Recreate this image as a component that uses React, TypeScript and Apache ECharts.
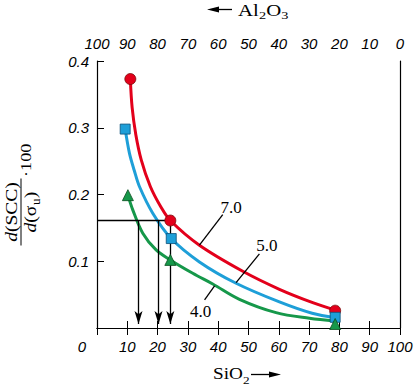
import React, { useEffect, useRef } from 'react';
import * as echarts from 'echarts';

const SANS = 'Liberation Sans, Arial, sans-serif';
const SERIF = 'Liberation Serif, Times New Roman, serif';

// curve samples [SiO2 %, value]
const curve70 = [[11.0, 0.373], [11.6, 0.330], [12.8, 0.290], [14.6, 0.252], [17.6, 0.212], [21.0, 0.182], [24.2, 0.161], [33.8, 0.124], [48.1, 0.085], [60.2, 0.058], [71.2, 0.038], [78.6, 0.027]];
const curve50 = [[9.3, 0.298], [10.7, 0.262], [12.3, 0.236], [14.0, 0.212], [18.4, 0.172], [24.5, 0.134], [33.8, 0.099], [45.9, 0.067], [60.2, 0.039], [71.0, 0.022], [78.6, 0.0155]];
const curve40 = [[10.2, 0.199], [11.8, 0.177], [15.1, 0.142], [19.5, 0.117], [24.2, 0.102], [31.6, 0.082], [38.2, 0.066], [47.0, 0.043], [59.1, 0.023], [70.1, 0.0145], [78.6, 0.0105]];

// measured points
const pts70 = [[11.0, 0.373], [24.2, 0.161], [78.6, 0.026]];
const pts50 = [[9.3, 0.298], [24.5, 0.134], [78.6, 0.016]];
const pts40 = [[10.2, 0.199], [24.2, 0.102], [78.6, 0.006]];

// reference construction
const refLevel = 0.161;
const refEndX = 24.2;
const arrowXs = [13.7, 20.3, 24.2];

// curve labels
const curveNames = ['7.0', '5.0', '4.0'];
const labelPos = [[44.3, 0.1805], [56.1, 0.1243], [34.2, 0.0247]];
const leaders = [
  [[41.5, 0.170], [33.8, 0.124]],
  [[53.6, 0.111], [45.9, 0.068]],
  [[38.8, 0.063], [35.5, 0.042]],
];

const RED = '#e3001b';
const BLUE = '#1e9fd8';
const GREEN = '#16984a';

export default function App() {
  const ref = useRef<HTMLDivElement>(null);
  useEffect(() => {
    document.body.style.margin = '0';
    const chart = echarts.init(ref.current!, undefined, { renderer: 'svg' });
    const tickLabel = { fontStyle: 'italic', fontFamily: SANS, fontSize: 15, color: '#000' };
    const axisLine = { show: true, lineStyle: { color: '#000', width: 1.2 } };
    const axisTick = { show: true, inside: true, length: 7, lineStyle: { color: '#000', width: 1 } };
    const lineSeries = (data: number[][], color: string) => ({
      type: 'line', data, smooth: 0.35, showSymbol: false, symbol: 'none',
      lineStyle: { color, width: 3 }, silent: true, z: 2,
    });
    const ptSeries = (data: number[][], color: string, border: string, symbol: string, size: number) => ({
      type: 'scatter', data, symbol, symbolSize: size,
      itemStyle: { color, borderColor: border, borderWidth: 0.8, opacity: 1 }, z: 5, silent: true,
    });
    const textStyle = (extra: any) => ({ fill: '#000', ...extra });
    chart.setOption({
      animation: false,
      grid: { left: 97, right: 16, top: 61, bottom: 60, containLabel: false },
      xAxis: [
        {
          type: 'value', position: 'bottom', min: 0, max: 100, interval: 10,
          axisLine, axisTick, splitLine: { show: false },
          axisLabel: {
            ...tickLabel, margin: 11,
            formatter: (v: number) => (v === 0 ? '{z|0}' : String(v)),
            rich: { z: { ...tickLabel, padding: [0, 30, 0, 0] } },
          },
        },
        {
          type: 'value', position: 'top', min: 0, max: 100, interval: 10, inverse: true,
          axisLine, axisTick, splitLine: { show: false },
          axisLabel: { ...tickLabel, margin: 10 },
        },
      ],
      yAxis: [
        {
          type: 'value', position: 'left', min: 0, max: 0.4, interval: 0.1,
          axisLine, axisTick, splitLine: { show: false },
          axisLabel: { ...tickLabel, margin: 8, formatter: (v: number) => (v === 0 ? '' : v.toFixed(1)) },
        },
        {
          type: 'value', position: 'right', min: 0, max: 0.4, interval: 0.1,
          axisLine, axisTick: { show: false }, axisLabel: { show: false }, splitLine: { show: false },
        },
      ],
      series: [
        {
          type: 'line', data: [], silent: true,
          markLine: {
            silent: true, symbol: 'none', label: { show: false }, animation: false,
            lineStyle: { color: '#000', width: 1.3, type: 'solid' },
            data: [
              [{ coord: [0, refLevel] }, { coord: [refEndX, refLevel] }],
              ...leaders.map((l) => [{ coord: l[0] }, { coord: l[1] }]),
            ],
          },
          markPoint: {
            silent: true, symbol: 'circle', symbolSize: 1, itemStyle: { color: 'rgba(0,0,0,0)' },
            label: { show: true, position: 'inside', fontFamily: SERIF, fontSize: 17, color: '#000' },
            data: curveNames.map((n, i) => ({ coord: labelPos[i], value: n, label: { formatter: n } })),
          },
        },
        {
          type: 'line', data: [], silent: true,
          markLine: {
            silent: true, symbol: ['none', 'arrow'], symbolSize: [6, 13], label: { show: false }, animation: false,
            lineStyle: { color: '#000', width: 1.3, type: 'solid' },
            data: arrowXs.map((x) => [{ coord: [x, refLevel] }, { coord: [x, 0.006] }]),
          },
        },
        lineSeries(curve40, GREEN),
        lineSeries(curve50, BLUE),
        lineSeries(curve70, RED),
        ptSeries(pts70, RED, '#7a0a0a', 'circle', 11),
        ptSeries(pts50, BLUE, '#0b4f78', 'rect', 10),
        ptSeries(pts40, GREEN, '#0a4d1e', 'triangle', 11),
      ],
      graphic: [
        // top title: <- Al2O3
        { type: 'line', shape: { x1: 216, y1: 9.5, x2: 232, y2: 9.5 }, style: { stroke: '#000', lineWidth: 1.3 } },
        { type: 'polygon', shape: { points: [[207, 9.5], [219, 6.5], [219, 12.5]] }, style: { fill: '#000' } },
        { type: 'text', x: 238, y: 10.5, scaleX: 1.3, style: textStyle({ text: 'Al', fontFamily: SERIF, fontSize: 16, align: 'left', verticalAlign: 'middle', textAlign: 'left', textVerticalAlign: 'middle' }) },
        { type: 'text', x: 259, y: 16, scaleX: 1.3, style: textStyle({ text: '2', fontFamily: SERIF, fontSize: 11, align: 'left', verticalAlign: 'middle', textAlign: 'left', textVerticalAlign: 'middle' }) },
        { type: 'text', x: 266.2, y: 10.5, scaleX: 1.3, style: textStyle({ text: 'O', fontFamily: SERIF, fontSize: 16, align: 'left', verticalAlign: 'middle', textAlign: 'left', textVerticalAlign: 'middle' }) },
        { type: 'text', x: 281.2, y: 16, scaleX: 1.3, style: textStyle({ text: '3', fontFamily: SERIF, fontSize: 11, align: 'left', verticalAlign: 'middle', textAlign: 'left', textVerticalAlign: 'middle' }) },
        // bottom title: SiO2 ->
        { type: 'text', x: 213, y: 374, scaleX: 1.2, style: textStyle({ text: 'SiO', fontFamily: SERIF, fontSize: 16, align: 'left', verticalAlign: 'middle', textAlign: 'left', textVerticalAlign: 'middle' }) },
        { type: 'text', x: 243, y: 380, scaleX: 1.2, style: textStyle({ text: '2', fontFamily: SERIF, fontSize: 11, align: 'left', verticalAlign: 'middle', textAlign: 'left', textVerticalAlign: 'middle' }) },
        { type: 'line', shape: { x1: 251, y1: 374.5, x2: 270, y2: 374.5 }, style: { stroke: '#000', lineWidth: 1.3 } },
        { type: 'polygon', shape: { points: [[281, 374.5], [269, 371.5], [269, 377.5]] }, style: { fill: '#000' } },
        // y title: d(SCC)/d(σu)·100
        {
          type: 'group', x: 21, y: 212, rotation: Math.PI / 2,
          children: [
            { type: 'line', shape: { x1: -33.5, y1: 0, x2: 33.5, y2: 0 }, style: { stroke: '#000', lineWidth: 1 } },
            {
              type: 'text', x: 0, y: -1, scaleX: 1.15,
              style: textStyle({
                text: '{i|d}{n|(SCC)}', fontFamily: SERIF, fontSize: 17,
                rich: { i: { fontStyle: 'italic', fontFamily: SERIF, fontSize: 17 }, n: { fontFamily: SERIF, fontSize: 17 } },
                align: 'center', verticalAlign: 'bottom', textAlign: 'center', textVerticalAlign: 'bottom',
              }),
            },
            {
              type: 'text', x: -20.5, y: 1, scaleX: 1.15,
              style: textStyle({
                text: '{i|d}{n|(σ}', fontFamily: SERIF, fontSize: 17,
                rich: { i: { fontStyle: 'italic', fontFamily: SERIF, fontSize: 17 }, n: { fontFamily: SERIF, fontSize: 17 } },
                align: 'left', verticalAlign: 'top', textAlign: 'left', textVerticalAlign: 'top',
              }),
            },
            { type: 'text', x: 7, y: 9, scaleX: 1.1, style: textStyle({ text: 'u', fontFamily: SERIF, fontSize: 12, align: 'left', verticalAlign: 'top', textAlign: 'left', textVerticalAlign: 'top' }) },
            { type: 'text', x: 13.8, y: 1, scaleX: 1.15, style: textStyle({ text: ')', fontFamily: SERIF, fontSize: 17, align: 'left', verticalAlign: 'top', textAlign: 'left', textVerticalAlign: 'top' }) },
            { type: 'text', x: 35, y: 6, scaleX: 1.3, style: textStyle({ text: '·100', fontFamily: SERIF, fontSize: 14, align: 'left', verticalAlign: 'middle', textAlign: 'left', textVerticalAlign: 'middle' }) },
          ],
        },
      ],
    });
    return () => chart.dispose();
  }, []);
  return <div ref={ref} style={{ width: 416, height: 388 }} />;
}
